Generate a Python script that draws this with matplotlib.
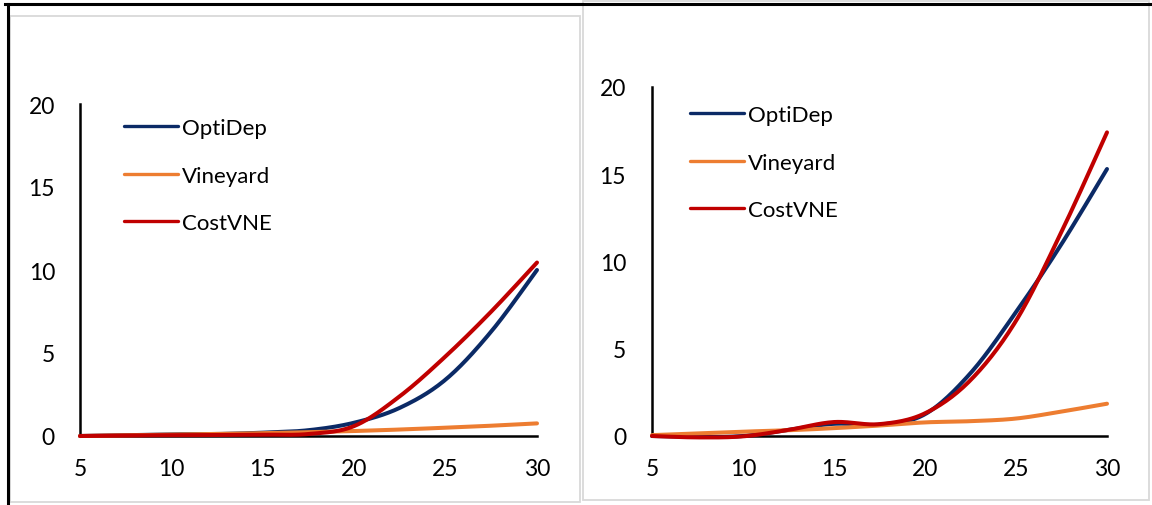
import numpy as np
import matplotlib.pyplot as plt
from matplotlib.lines import Line2D
from matplotlib.patches import Rectangle

plt.rcParams["font.family"] = ["Lato", "DejaVu Sans"]

# x positions shared by both panels
x = [5, 7.5, 10, 12.5, 15, 17.5, 20, 22.5, 25, 27.5, 30]

# left panel
left_optidep = [0.0, 0.05, 0.1, 0.12, 0.2, 0.35, 0.8, 1.7, 3.4, 6.3, 10.0]
left_vineyard = [0.0, 0.04, 0.08, 0.12, 0.17, 0.23, 0.3, 0.39, 0.5, 0.62, 0.76]
left_costvne = [0.0, 0.03, 0.05, 0.06, 0.08, 0.12, 0.6, 2.4, 4.8, 7.5, 10.45]

# right panel
right_optidep = [0.0, -0.05, 0.0, 0.35, 0.7, 0.65, 1.25, 3.6, 7.1, 11.0, 15.3]
right_vineyard = [0.05, 0.15, 0.25, 0.33, 0.45, 0.6, 0.78, 0.85, 1.0, 1.4, 1.85]
right_costvne = [0.0, -0.08, -0.02, 0.35, 0.8, 0.68, 1.3, 3.2, 6.6, 11.7, 17.4]

names = ["OptiDep", "Vineyard", "CostVNE"]
colors = ["#0B2A66", "#ED7D31", "#C00000"]
yticks = [0, 5, 10, 15, 20]
xticks = [5, 10, 15, 20, 25, 30]

W, H = 1152, 506


def smooth(xs, ys, n=24):
    # Catmull-Rom curve through the points, like a spreadsheet "smoothed line"
    p = np.column_stack([xs, ys]).astype(float)
    p = np.vstack([p[0], p, p[-1]])
    out = []
    for i in range(1, len(p) - 2):
        p0, p1, p2, p3 = p[i - 1], p[i], p[i + 1], p[i + 2]
        t = np.linspace(0, 1, n, endpoint=False)[:, None]
        out.append(0.5 * ((2 * p1) + (-p0 + p2) * t
                          + (2 * p0 - 5 * p1 + 4 * p2 - p3) * t ** 2
                          + (-p0 + 3 * p1 - 3 * p2 + p3) * t ** 3))
    out.append(p[-2][None, :])
    c = np.vstack(out)
    return c[:, 0], c[:, 1]


def fx(px):
    return px / W


def fy(py):
    return 1 - py / H


fig = plt.figure(figsize=(W / 100, H / 100), dpi=100)

# panel borders
fig.add_artist(Rectangle((fx(10), fy(503)), fx(570), 486 / H, transform=fig.transFigure,
                         fill=False, ec="#D9D9D9", lw=1.3))
fig.add_artist(Rectangle((fx(583), fy(501)), fx(566), 499 / H, transform=fig.transFigure,
                         fill=False, ec="#D9D9D9", lw=1.3))
fig.add_artist(Line2D([fx(5), fx(1152)], [fy(5), fy(5)], transform=fig.transFigure,
                      color="black", lw=2.2))
fig.add_artist(Line2D([fx(7.5), fx(7.5)], [fy(5), fy(506)], transform=fig.transFigure,
                      color="black", lw=2.2))

panels = [
    ((80, 537, 105, 437), [left_optidep, left_vineyard, left_costvne], (124, 119), 25),
    ((652, 1107, 88, 437), [right_optidep, right_vineyard, right_costvne], (690, 106), 26),
]

for (x0, x1, ytop, ybot), series, (lx, ly), pad in panels:
    ax = fig.add_axes([fx(x0), fy(ybot), (x1 - x0) / W, (ybot - ytop) / H])
    for vals, name, col in zip(series, names, colors):
        sx, sy = smooth(x, vals)
        ax.plot(sx, sy, color=col, lw=2.9, label=name, clip_on=False,
                solid_capstyle="round")
    ax.set_xlim(5, 30)
    ax.set_ylim(0, 20)
    ax.set_xticks(xticks)
    ax.set_yticks(yticks)
    ax.tick_params(length=0, labelsize=16.5)
    ax.tick_params(axis="y", pad=pad * 0.72)
    ax.tick_params(axis="x", pad=16)
    for s in ["top", "right"]:
        ax.spines[s].set_visible(False)
    for s in ["left", "bottom"]:
        ax.spines[s].set_linewidth(1.8)
        ax.spines[s].set_zorder(0.5)
    ax.set_facecolor("none")
    leg = ax.legend(loc="upper left", bbox_to_anchor=(fx(lx), fy(ly)),
                    bbox_transform=fig.transFigure, frameon=False, fontsize=16,
                    handlelength=2.43, handletextpad=0.18, labelspacing=1.24,
                    borderpad=0, borderaxespad=0)
    for h in leg.get_lines():
        h.set_linewidth(2.4)

fig.savefig("out.png", dpi=100)
